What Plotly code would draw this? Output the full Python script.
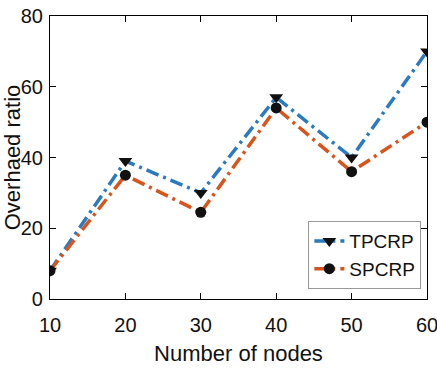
import plotly.graph_objects as go

nodes = [10, 20, 30, 40, 50, 60]
tpcrp = [8, 39, 30, 57, 40, 70]
spcrp = [8, 35, 24.5, 54, 36, 50]

label_font = "Liberation Sans, Arial, sans-serif"

fig = go.Figure()
fig.add_trace(go.Scatter(
    x=nodes, y=tpcrp, name="TPCRP", mode="lines+markers",
    line=dict(color="#2a7abf", width=3.5, dash="13px,5px,3px,5px"),
    marker=dict(symbol="triangle-down", size=12, color="#111111"),
))
fig.add_trace(go.Scatter(
    x=nodes, y=spcrp, name="SPCRP", mode="lines+markers",
    line=dict(color="#d9541c", width=3.5, dash="13px,5px,3px,5px"),
    marker=dict(symbol="circle", size=11, color="#111111"),
))

axis_common = dict(
    showline=True, linecolor="black", linewidth=1.2, mirror="ticks",
    ticks="inside", ticklen=6, tickcolor="black", tickwidth=1,
    showgrid=False, zeroline=False, ticklabeloverflow="allow",
    automargin=False,
    tickfont=dict(family=label_font, size=20, color="#111111"),
)

fig.update_layout(
    width=437, height=369,
    margin=dict(l=50, r=10, t=16, b=70),
    plot_bgcolor="white", paper_bgcolor="white",
    xaxis=dict(range=[10, 60], tickvals=nodes, ticklabelstandoff=8,
               title=dict(text="Number of nodes", standoff=10,
                          font=dict(family=label_font, size=22, color="#111111")),
               **axis_common),
    yaxis=dict(range=[0, 80], tickvals=[0, 20, 40, 60, 80], ticklabelstandoff=2,
               title=dict(text="Overhaed ratio", standoff=3,
                          font=dict(family=label_font, size=22, color="#111111")),
               **axis_common),
    legend=dict(x=0.985, y=0.035, xanchor="right", yanchor="bottom",
                bordercolor="#999999", borderwidth=1, bgcolor="white",
                font=dict(family=label_font, size=19, color="#111111"),
                itemwidth=30, tracegroupgap=0),
    showlegend=True,
)

fig.write_html("out.html")
